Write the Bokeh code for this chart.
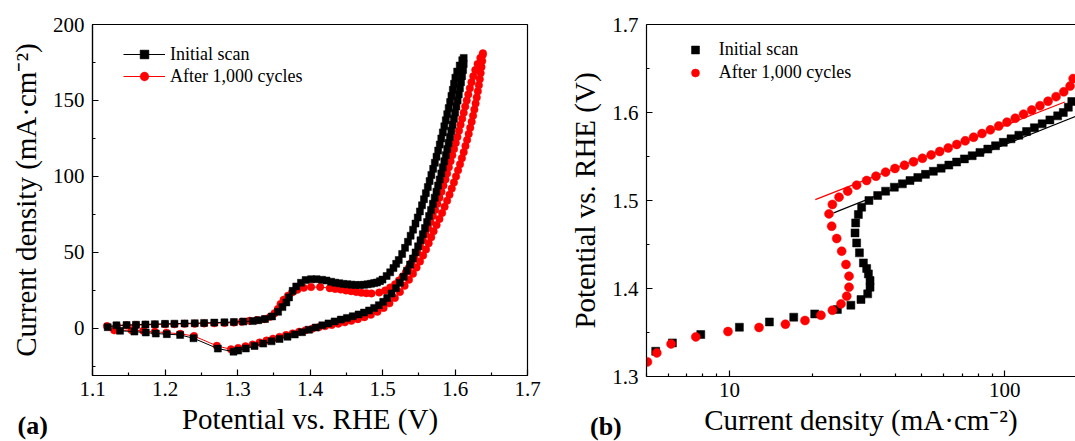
from bokeh.plotting import figure
from bokeh.layouts import row
from bokeh.models import (Range1d, SingleIntervalTicker, FixedTicker, Legend, LegendItem,
                          Title, LinearAxis, NumeralTickFormatter)
from bokeh.embed import file_html
from bokeh.resources import INLINE

# ---------------- data: panel (a) cyclic voltammograms ----------------
cv_initial_potential = [
    1.121, 1.133, 1.147, 1.160, 1.173, 1.186, 1.200, 1.213, 1.227, 1.241,
    1.254, 1.268, 1.282, 1.295, 1.308, 1.321, 1.3287, 1.338, 1.3477, 1.356,
    1.362, 1.3674, 1.3711, 1.3761, 1.381, 1.3875, 1.394, 1.4015, 1.409, 1.4166,
    1.4227, 1.4291, 1.4348, 1.4405, 1.4462, 1.4518, 1.4575, 1.4632, 1.469, 1.4745,
    1.4795, 1.4841, 1.4885, 1.4924, 1.4965, 1.500, 1.5057, 1.5106, 1.5151, 1.5189,
    1.5224, 1.5271, 1.5311, 1.5351, 1.5388, 1.5422, 1.5455, 1.5486, 1.5516, 1.5545,
    1.5572, 1.5598, 1.5625, 1.5650, 1.5674, 1.5699, 1.5722, 1.5745, 1.5768, 1.5790,
    1.5811, 1.5832, 1.5853, 1.5873, 1.5893, 1.5913, 1.5933, 1.5951, 1.5970, 1.5987,
    1.6005, 1.6030, 1.6065, 1.6100, 1.6120,
    1.6120, 1.6112, 1.6098, 1.6083, 1.6068, 1.6052, 1.6036, 1.6019, 1.6002, 1.5985,
    1.5967, 1.5949, 1.5931, 1.5912, 1.5893, 1.5873, 1.5853, 1.5832, 1.5811, 1.5789,
    1.5767, 1.5744, 1.5720, 1.5695, 1.5670, 1.5643, 1.5615, 1.5586, 1.5556, 1.5524,
    1.5491, 1.5456, 1.5419, 1.5380, 1.5338, 1.5292, 1.5240, 1.5185, 1.5125, 1.5065,
    1.5010, 1.4950, 1.4885, 1.4815, 1.4745, 1.4670, 1.4590, 1.4510, 1.4425, 1.4340,
    1.4255, 1.4170, 1.4080, 1.3985, 1.3890, 1.3790, 1.3690, 1.3580, 1.3470, 1.3355,
    1.3235, 1.3115, 1.3010, 1.2945, 1.2729, 1.2393, 1.2209, 1.2025, 1.1873, 1.1735,
    1.1578, 1.1380]
cv_initial_current = [
    0.8, 2.0, 2.2, 2.4, 2.6, 2.8, 3.0, 3.1, 3.3, 3.4,
    3.6, 3.8, 4.0, 4.2, 4.5, 4.8, 5.4, 6.2, 7.9, 10.9,
    14.0, 17.1, 20.4, 24.7, 27.6, 30.0, 31.8, 32.4, 32.4, 32.0,
    31.5, 30.7, 30.1, 29.7, 29.3, 29.0, 28.8, 28.6, 28.6, 28.7,
    29.0, 29.4, 29.8, 30.2, 31.1, 32.1, 34.5, 36.9, 39.7, 42.5,
    45, 49, 53, 57, 61, 65, 69, 73, 77, 81,
    85, 89, 93, 97, 101, 105, 109, 113, 117, 121,
    125, 129, 133, 137, 141, 145, 149, 153, 157, 161,
    165, 169, 173, 176.5, 178,
    174, 170, 166, 162, 158, 154, 150, 146, 142, 138,
    134, 130, 126, 122, 118, 114, 110, 106, 102, 98,
    94, 90, 86, 82, 78, 74, 70, 66, 62, 58,
    54, 50, 46, 42, 38, 34, 30, 26.5, 23, 20,
    17.5, 15.3, 13.5, 11.8, 10.4, 9.2, 8.0, 6.9, 5.8, 4.6,
    3.3, 2.0, 0.6, -0.9, -2.5, -4.0, -5.5, -7.0, -8.5, -10.0,
    -11.6, -13.2, -14.6, -15.3, -13.3, -6.5, -4.3, -3.8, -3.4, -2.7,
    -2.1, -1.6]

cv_cycled_potential = [
    1.120, 1.1335, 1.147, 1.160, 1.173, 1.186, 1.200, 1.213, 1.227, 1.241,
    1.254, 1.268, 1.282, 1.295, 1.3060, 1.3166, 1.3268, 1.337, 1.345, 1.3511,
    1.3557, 1.3594, 1.3636, 1.3696, 1.3753, 1.3825, 1.3913, 1.4015, 1.4140, 1.4273,
    1.4348, 1.4424, 1.4496, 1.4568, 1.4638, 1.4708, 1.4778, 1.4848, 1.4955, 1.5038,
    1.5106, 1.5174, 1.5227, 1.5276, 1.5322, 1.5364, 1.5401, 1.5440, 1.5479, 1.5518,
    1.5557, 1.5594, 1.5629, 1.5662, 1.5695, 1.5726, 1.5756, 1.5785, 1.5813, 1.5840,
    1.5868, 1.5891, 1.5915, 1.5939, 1.5963, 1.5987, 1.6010, 1.6033, 1.6055, 1.6077,
    1.6099, 1.6120, 1.6141, 1.6162, 1.6183, 1.6205, 1.6227, 1.6252, 1.6280, 1.6312,
    1.6350, 1.6385,
    1.6382, 1.6375, 1.6365, 1.6354, 1.6342, 1.6329, 1.6315, 1.6300, 1.6284, 1.6267,
    1.6249, 1.6230, 1.6210, 1.6189, 1.6167, 1.6144, 1.6120, 1.6095, 1.6069, 1.6042,
    1.6014, 1.5985, 1.5955, 1.5924, 1.5891, 1.5857, 1.5822, 1.5785, 1.5746,
    1.5705, 1.5672, 1.5637, 1.5600, 1.5560, 1.5517, 1.5470, 1.5420, 1.5365, 1.5305,
    1.5240, 1.5170, 1.5095, 1.5015, 1.4930, 1.4840, 1.4750, 1.4660, 1.4570, 1.4480,
    1.4390, 1.4300, 1.4210, 1.4120, 1.4030, 1.3940, 1.3850, 1.3760, 1.3670, 1.3580,
    1.3490, 1.3400, 1.3305, 1.3210, 1.3110, 1.3010, 1.2910, 1.2715, 1.2400, 1.2210,
    1.2020, 1.1860, 1.1700, 1.1540, 1.1300]
cv_cycled_current = [
    1.5, 1.8, 2.0, 2.2, 2.4, 2.5, 2.7, 2.8, 3.0, 3.1,
    3.3, 3.4, 3.6, 3.8, 4.3, 5.0, 5.45, 6.1, 7.6, 9.9,
    12.8, 16.0, 18.8, 21.5, 23.7, 25.4, 26.7, 27.2, 27.2, 26.5,
    26.0, 25.6, 25.0, 24.5, 24.0, 23.5, 23.2, 23.0, 23.6, 25.0,
    26.9, 29.0, 31.5, 34.0, 36.9, 39.9, 43.2, 46.6, 50.2, 54,
    58, 62, 66, 70, 74, 78, 82, 86, 90, 94,
    98, 102, 106, 110, 114, 118, 122, 126, 130, 134,
    138, 142, 146, 150, 154, 158, 162, 166, 170, 174,
    178, 181,
    180, 176, 172, 168, 164, 160, 156, 152, 148, 144,
    140, 136, 132, 128, 124, 120, 116, 112, 108, 104,
    100, 96, 92, 88, 84, 80, 76, 72, 68,
    64, 60, 56, 52, 48, 44, 40, 36, 32, 28,
    24, 20, 16.5, 13.5, 11.0, 9.0, 7.4, 6.1, 5.0, 4.0,
    3.1, 2.3, 1.5, 0.7, -0.2, -1.2, -2.2, -3.3, -4.4, -5.6,
    -6.8, -8.0, -9.3, -10.6, -11.8, -12.9, -13.8, -11.5, -5.0, -3.6,
    -2.8, -2.2, -1.6, -1.2, -1.3]

# ---------------- data: panel (b) Tafel plot ----------------
tafel_initial_current = [
    5.40, 6.21, 7.87, 10.87, 13.97, 17.12, 20.4, 24.66, 27.6, 30.04,
    31.77, 32.4, 32.4, 31.96, 31.5, 30.65, 29.65, 28.97, 28.58, 28.73,
    29.39, 30.2, 32.1, 34.53, 36.9, 39.7, 42.46, 45.25, 48.3, 51.5,
    55.0, 58.7, 62.6, 66.8, 71.3, 76.1, 81.2, 86.7, 92.5, 98.7,
    105.3, 112.4, 119.9, 128.0, 136.6, 145.7, 155.5, 163.0, 170.0, 175.0]
tafel_initial_potential = [
    1.3287, 1.3382, 1.3477, 1.356, 1.362, 1.3674, 1.3711, 1.3761, 1.381, 1.3875,
    1.3939, 1.4015, 1.4091, 1.4166, 1.4227, 1.4291, 1.4405, 1.4518, 1.4632, 1.4745,
    1.4841, 1.4924, 1.500, 1.5057, 1.5106, 1.5151, 1.5189, 1.5227, 1.5262, 1.5297,
    1.5332, 1.5367, 1.5402, 1.5437, 1.5473, 1.5509, 1.5546, 1.5584, 1.5622, 1.5661,
    1.5701, 1.5742, 1.5784, 1.5827, 1.5871, 1.5916, 1.5962, 1.6000, 1.6060, 1.6125]
tafel_cycled_current = [
    5.04, 5.45, 6.14, 7.55, 9.88, 12.81, 15.97, 18.81, 21.5, 23.65,
    25.42, 26.66, 27.18, 27.18, 26.5, 25.56, 24.52, 23.51, 22.99, 23.65,
    25.0, 26.88, 28.97, 31.5, 34.05, 36.9, 39.9, 43.2, 46.6, 50.2,
    54.0, 58.0, 62.3, 66.9, 71.8, 77.0, 82.6, 88.6, 95.0, 101.8,
    109.1, 116.9, 125.2, 134.1, 143.5, 153.4, 163.6, 172.5, 177.0]
tafel_cycled_potential = [
    1.3166, 1.3268, 1.337, 1.345, 1.3511, 1.3557, 1.3594, 1.3636, 1.3696, 1.3753,
    1.3825, 1.3913, 1.4015, 1.4140, 1.4273, 1.4424, 1.4568, 1.4708, 1.4848, 1.4955,
    1.5038, 1.5106, 1.5174, 1.5227, 1.5276, 1.5322, 1.5364, 1.5401, 1.5440, 1.5479,
    1.5518, 1.5557, 1.5597, 1.5637, 1.5678, 1.5719, 1.5761, 1.5803, 1.5846, 1.5890,
    1.5935, 1.5981, 1.6028, 1.6077, 1.6128, 1.6180, 1.6235, 1.6300, 1.6385]

fit_initial_current = [23.9, 182.0]
fit_initial_potential = [1.486, 1.596]
fit_cycled_current = [20.5, 165.0]
fit_cycled_potential = [1.501, 1.612]

# tick values
cv_potential_ticks = [1.1, 1.2, 1.3, 1.4, 1.5, 1.6, 1.7]
cv_potential_minor = [1.15, 1.25, 1.35, 1.45, 1.55, 1.65]
cv_current_ticks = [0, 50, 100, 150, 200]
cv_current_minor = [-25, 25, 75, 125, 175]
tafel_potential_ticks = [1.3, 1.4, 1.5, 1.6, 1.7]
tafel_potential_minor = [1.35, 1.45, 1.55, 1.65]
tafel_current_ticks = [10, 100]
tafel_current_minor = [5, 6, 7, 8, 9, 20, 30, 40, 50, 60, 70, 80, 90, 200]

series_labels = ["Initial scan", "After 1,000 cycles"]
panel_tags = ["(a)", "(b)"]
potential_label = "Potential vs. RHE (V)"
cd_label = "Current density (mA\u00b7cm\u207b\u00b2)"

FONT = "Liberation Serif"
BLACK = "#000000"
RED = "#ff0000"


def style_axis(ax, tick_size="21px", label_size="29px"):
    ax.axis_line_color = BLACK
    ax.axis_line_width = 1.2
    ax.major_tick_line_color = BLACK
    ax.minor_tick_line_color = BLACK
    ax.major_tick_line_width = 1.2
    ax.minor_tick_line_width = 1.2
    ax.major_tick_in = 6
    ax.major_tick_out = 0
    ax.minor_tick_in = 3
    ax.minor_tick_out = 0
    ax.major_label_text_font = FONT
    ax.major_label_text_font_size = tick_size
    ax.major_label_text_color = BLACK
    ax.axis_label_text_font = FONT
    ax.axis_label_text_font_size = label_size
    ax.axis_label_text_font_style = "normal"
    ax.axis_label_text_color = BLACK


def panel_tag(text, offset):
    return Title(text=text, align="left", vertical_align="top", offset=offset, standoff=-53,
                 text_font=FONT, text_font_style="bold", text_font_size="26px",
                 text_color=BLACK)


# ---------------- panel (a) ----------------
p1 = figure(frame_width=435, frame_height=351,
            min_border_left=92, min_border_right=33, min_border_top=24, min_border_bottom=66,
            x_range=Range1d(1.1, 1.7), y_range=Range1d(-31, 200),
            output_backend="svg", toolbar_location=None)
p1.xgrid.grid_line_color = None
p1.ygrid.grid_line_color = None
p1.outline_line_color = BLACK
p1.outline_line_width = 1.2
p1.outline_line_alpha = 1.0
p1.background_fill_color = "white"
p1.border_fill_color = "white"

p1.xaxis.ticker = FixedTicker(ticks=cv_potential_ticks, minor_ticks=cv_potential_minor)
p1.yaxis.ticker = FixedTicker(ticks=cv_current_ticks, minor_ticks=cv_current_minor)
p1.xaxis.axis_label = potential_label
p1.yaxis.axis_label = cd_label
for ax in (p1.xaxis[0], p1.yaxis[0]):
    style_axis(ax)
p1.xaxis.major_label_standoff = 6
p1.xaxis.axis_label_standoff = 4
p1.yaxis.major_label_standoff = 8
p1.yaxis.axis_label_standoff = 8

r_line_red = p1.line(cv_cycled_potential, cv_cycled_current, line_color=RED, line_width=1)
r_sc_red = p1.scatter(cv_cycled_potential, cv_cycled_current, marker="circle", size=7.5,
                      fill_color=RED, line_color=RED, line_width=0.5)
r_line_blk = p1.line(cv_initial_potential, cv_initial_current, line_color=BLACK, line_width=1)
r_sc_blk = p1.scatter(cv_initial_potential, cv_initial_current, marker="square", size=7,
                      fill_color=BLACK, line_color=BLACK, line_width=0.5)

leg1 = Legend(items=[LegendItem(label=series_labels[0], renderers=[r_line_blk, r_sc_blk]),
                     LegendItem(label=series_labels[1], renderers=[r_line_red, r_sc_red])],
              location=(31, 287.7))
leg1.label_text_font = FONT
leg1.label_text_font_size = "18px"
leg1.label_text_color = BLACK
leg1.glyph_width = 42
leg1.glyph_height = 22
leg1.label_height = 22
leg1.label_standoff = 5
leg1.padding = 0
leg1.margin = 0
leg1.spacing = 0
leg1.border_line_color = None
leg1.background_fill_alpha = 0
p1.add_layout(leg1)
p1.add_layout(panel_tag(panel_tags[0], -75), "below")

# ---------------- panel (b) ----------------
p2 = figure(frame_width=429, frame_height=352,
            min_border_left=86, min_border_right=0, min_border_top=23, min_border_bottom=66,
            x_axis_type="log", x_range=Range1d(5, 180.5), y_range=Range1d(1.3, 1.7),
            output_backend="svg", toolbar_location=None)
p2.xgrid.grid_line_color = None
p2.ygrid.grid_line_color = None
p2.outline_line_color = None
p2.background_fill_color = "white"
p2.border_fill_color = "white"

p2.xaxis.ticker = FixedTicker(ticks=tafel_current_ticks, minor_ticks=tafel_current_minor)
p2.xaxis.formatter = NumeralTickFormatter(format="0")
p2.yaxis.ticker = FixedTicker(ticks=tafel_potential_ticks, minor_ticks=tafel_potential_minor)
p2.xaxis.axis_label = cd_label
p2.yaxis.axis_label = potential_label
for ax in (p2.xaxis[0], p2.yaxis[0]):
    style_axis(ax)
p2.xaxis.major_label_standoff = 6
p2.xaxis.axis_label_standoff = 4
p2.yaxis.major_label_standoff = 8
p2.yaxis.axis_label_standoff = 8

top_axis = LinearAxis(ticker=FixedTicker(ticks=[]))
top_axis.axis_line_color = BLACK
top_axis.axis_line_width = 1.2
top_axis.major_tick_line_color = None
top_axis.minor_tick_line_color = None
p2.add_layout(top_axis, "above")

r2_blk = p2.scatter(tafel_initial_current, tafel_initial_potential, marker="square", size=8,
                    fill_color=BLACK, line_color=BLACK, line_width=0.5)
r2_red = p2.scatter(tafel_cycled_current, tafel_cycled_potential, marker="circle", size=9,
                    fill_color=RED, line_color=RED, line_width=0.5)
p2.line(fit_initial_current, fit_initial_potential, line_color=BLACK, line_width=1.2)
p2.line(fit_cycled_current, fit_cycled_potential, line_color=RED, line_width=1.2)

leg2 = Legend(items=[LegendItem(label=series_labels[0], renderers=[r2_blk]),
                     LegendItem(label=series_labels[1], renderers=[r2_red])],
              location=(38.8, 292))
leg2.label_text_font = FONT
leg2.label_text_font_size = "18px"
leg2.label_text_color = BLACK
leg2.glyph_width = 20
leg2.glyph_height = 23
leg2.label_height = 23
leg2.label_standoff = 14
leg2.padding = 0
leg2.margin = 0
leg2.spacing = 0
leg2.border_line_color = None
leg2.background_fill_alpha = 0
p2.add_layout(leg2)
p2.add_layout(panel_tag(panel_tags[1], -56.5), "below")

layout = row(p1, p2)
open("out.html", "w").write(file_html(layout, INLINE))
